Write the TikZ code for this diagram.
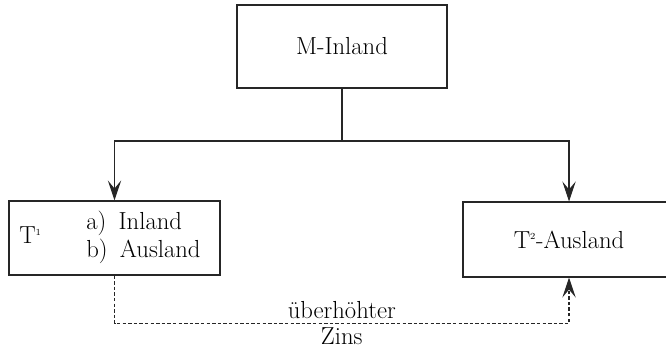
\documentclass[tikz,border=0pt]{standalone}
\usepackage{amsmath, amssymb}
\usepackage{tikz}
\usetikzlibrary{arrows.meta}

\begin{document}
\begin{tikzpicture}[x=0.75pt,y=0.75pt,yscale=-1,xscale=1,
  every node/.style={font=\fontsize{18.5}{21}\selectfont},
  box/.style={draw=black!85, line width=0.8pt, inner sep=0pt},
  arr/.style={draw=black!85, line width=0.8pt, -{Stealth[length=15pt,width=10pt,inset=6pt]}},
  dashlink/.style={arr, line width=0.9pt, dash pattern=on 2.6pt off 1.6pt}]
%set diagram left start at 0, and has height of 349
\useasboundingbox (0,0) rectangle (666,349);

% Boxes
\node [box, minimum width=157.5pt, minimum height=62.25pt] (m) at (342,46.5) {M-Inland};
\node [box, minimum width=158.25pt, minimum height=55.5pt] (t1) at (114.5,238) {};
\node [box, minimum width=159pt, minimum height=56.25pt] (t2) at (569,239.5) {T\textsuperscript{\scriptsize 2}-Ausland};

% Text in T1
\node [anchor=west, inner sep=0pt] (t1sym) at (19,235) {T\textsuperscript{\scriptsize 1}};
\node [anchor=west, align=left, inner sep=0pt] (t1list) at (86,237) {a)\enspace Inland\\b)\enspace Ausland};

% Lines
\coordinate (fork) at (342,141);
\draw [draw=black!85, line width=0.8pt] (m.south) -- (fork);
\draw [arr] (fork) -| (t1.north);
\draw [arr] (fork) -| (t2.north);

% Dashed link
\draw [dashlink] (t1.south) -- ++(0,48) coordinate (low) -| node [pos=0.25, above, inner sep=3pt] (zins1) {überhöhter} node [pos=0.25, below, inner sep=2.5pt] (zins2) {Zins} (t2.south);

\end{tikzpicture}
\end{document}
